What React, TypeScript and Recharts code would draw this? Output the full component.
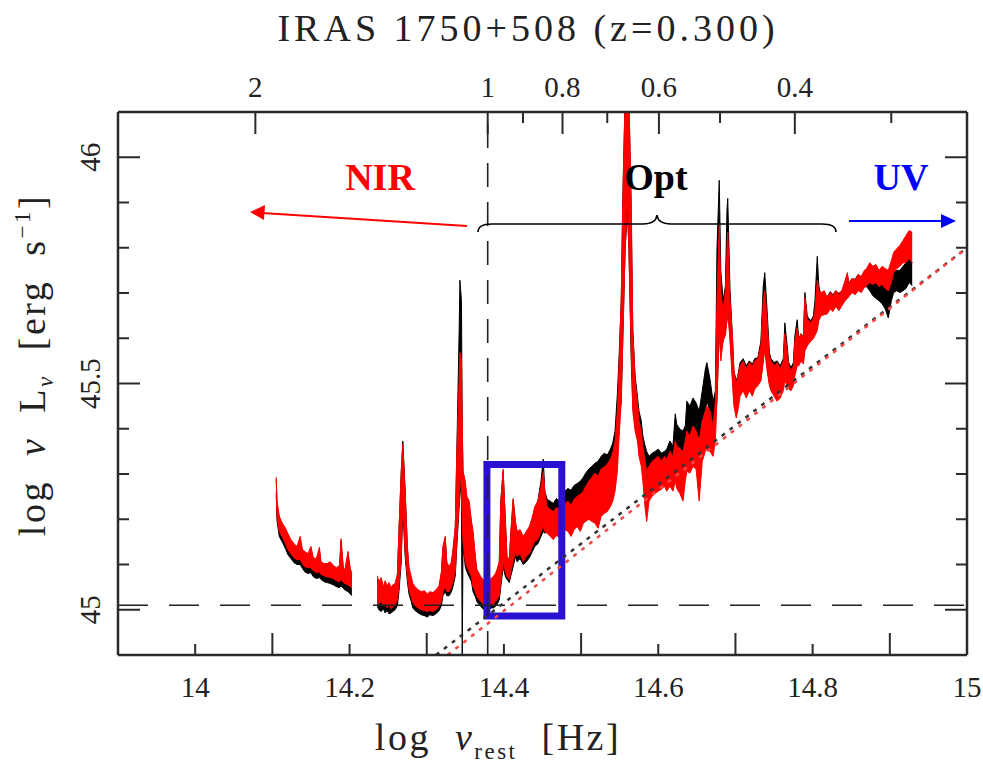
import { ComposedChart, XAxis, YAxis, Area, Line, ReferenceLine, ReferenceArea } from 'recharts';

const W = 983;
const H = 763;
const SERIF = '"Liberation Serif", "DejaVu Serif", serif';
const FRAME = '#2a2a2a';

// ---- axes ----
const BOTTOM_TICKS = [14, 14.1, 14.2, 14.3, 14.4, 14.5, 14.6, 14.7, 14.8, 14.9, 15];
const BOTTOM_LABELS = ['14', '', '14.2', '', '14.4', '', '14.6', '', '14.8', '', '15'];
const LEFT_TICKS = [45, 45.1, 45.2, 45.3, 45.4, 45.5, 45.6, 45.7, 45.8, 45.9, 46];
const LEFT_LABELS = ['45', '', '', '', '', '45.5', '', '', '', '', '46'];
// top axis: observed wavelength in micron
const TOP_WAVELENGTHS = [2, 1, 0.9, 0.8, 0.7, 0.6, 0.5, 0.4, 0.3];
const TOP_LABELS = ['2', '1', '', '0.8', '', '0.6', '', '0.4', ''];
const LOG_NU_AT_1UM = 14.379;
const topTicks = TOP_WAVELENGTHS.map((l) => LOG_NU_AT_1UM - Math.log10(l));

// ---- NIR segment of the spectrum ----
const SEG1_NU = [14.105, 14.106, 14.109, 14.113, 14.117, 14.120, 14.124, 14.128, 14.132, 14.136,
  14.139, 14.142, 14.146, 14.150, 14.153, 14.157, 14.161, 14.163, 14.167, 14.171,
  14.175, 14.179, 14.183, 14.187, 14.189, 14.192, 14.194, 14.198, 14.201, 14.203];
const SEG1_RED_HI = [45.293, 45.240, 45.206, 45.191, 45.180, 45.169, 45.155, 45.146, 45.140, 45.162,
  45.133, 45.129, 45.124, 45.140, 45.115, 45.113, 45.138, 45.106, 45.102, 45.102,
  45.106, 45.098, 45.093, 45.098, 45.157, 45.093, 45.089, 45.129, 45.089, 45.084];
const SEG1_RED_LO = [45.262, 45.206, 45.173, 45.160, 45.146, 45.133, 45.124, 45.115, 45.111, 45.111,
  45.102, 45.095, 45.093, 45.093, 45.087, 45.082, 45.084, 45.078, 45.075, 45.073,
  45.071, 45.069, 45.064, 45.062, 45.067, 45.060, 45.058, 45.055, 45.051, 45.047];
const SEG1_BLACK_HI = [45.288, 45.235, 45.202, 45.184, 45.173, 45.162, 45.151, 45.140, 45.133, 45.155,
  45.126, 45.122, 45.118, 45.133, 45.109, 45.106, 45.131, 45.100, 45.095, 45.095,
  45.100, 45.091, 45.087, 45.091, 45.151, 45.087, 45.082, 45.122, 45.082, 45.078];
const SEG1_BLACK_LO = [45.253, 45.197, 45.162, 45.149, 45.135, 45.122, 45.113, 45.104, 45.100, 45.100,
  45.091, 45.084, 45.080, 45.082, 45.073, 45.069, 45.071, 45.067, 45.062, 45.060,
  45.058, 45.055, 45.051, 45.049, 45.053, 45.047, 45.044, 45.040, 45.035, 45.031];

// ---- main segment of the spectrum ----
const MAIN_NU = [
  14.236, 14.238, 14.241, 14.244, 14.246, 14.249, 14.251, 14.254, 14.256, 14.259,
  14.262, 14.264, 14.267, 14.269, 14.272, 14.275, 14.277, 14.280, 14.282, 14.285,
  14.289, 14.293, 14.297, 14.301, 14.304, 14.308, 14.312, 14.316, 14.319, 14.321,
  14.324, 14.326, 14.329, 14.332, 14.334, 14.337, 14.339, 14.342, 14.343, 14.345,
  14.346, 14.347, 14.350, 14.352, 14.355, 14.358, 14.360, 14.363, 14.365, 14.368,
  14.370, 14.373, 14.376, 14.378, 14.381, 14.383, 14.386, 14.389, 14.391, 14.394,
  14.396, 14.399, 14.402, 14.404, 14.407, 14.409, 14.412, 14.415, 14.417, 14.421,
  14.425, 14.429, 14.433, 14.437, 14.440, 14.444, 14.448, 14.451, 14.453, 14.456,
  14.460, 14.464, 14.468, 14.472, 14.475, 14.479, 14.483, 14.487, 14.491, 14.495,
  14.499, 14.503, 14.506, 14.510, 14.514, 14.518, 14.522, 14.526, 14.530, 14.534,
  14.538, 14.541, 14.544, 14.547, 14.549, 14.552, 14.554, 14.557, 14.560, 14.562,
  14.565, 14.567, 14.570, 14.573, 14.575, 14.578, 14.580, 14.583, 14.585, 14.588,
  14.592, 14.596, 14.600, 14.604, 14.608, 14.611, 14.615, 14.619, 14.622, 14.624,
  14.628, 14.632, 14.635, 14.637, 14.641, 14.645, 14.649, 14.653, 14.657, 14.661,
  14.663, 14.667, 14.671, 14.674, 14.676, 14.679, 14.681, 14.684, 14.687, 14.689,
  14.690, 14.693, 14.696, 14.698, 14.701, 14.703, 14.706, 14.710, 14.714, 14.718,
  14.722, 14.725, 14.729, 14.733, 14.736, 14.738, 14.741, 14.744, 14.746, 14.750,
  14.754, 14.758, 14.762, 14.764, 14.767, 14.769, 14.772, 14.775, 14.777, 14.780,
  14.782, 14.785, 14.788, 14.790, 14.793, 14.795, 14.798, 14.801, 14.803, 14.806,
  14.808, 14.811, 14.815, 14.819, 14.823, 14.826, 14.830, 14.834, 14.838, 14.842,
  14.845, 14.847, 14.851, 14.855, 14.859, 14.863, 14.867, 14.870, 14.874, 14.878,
  14.882, 14.886, 14.890, 14.894, 14.898, 14.902, 14.905, 14.909, 14.913, 14.917,
  14.921, 14.925, 14.929];
const MAIN_RED_HI = [
  45.075, 45.062, 45.071, 45.051, 45.064, 45.053, 45.060, 45.049, 45.055, 45.058,
  45.080, 45.173, 45.306, 45.366, 45.262, 45.140, 45.093, 45.073, 45.058, 45.051,
  45.044, 45.040, 45.042, 45.035, 45.040, 45.038, 45.044, 45.053, 45.084, 45.140,
  45.162, 45.106, 45.095, 45.106, 45.133, 45.184, 45.350, 45.506, 45.568, 45.550,
  45.417, 45.306, 45.284, 45.251, 45.240, 45.195, 45.173, 45.118, 45.089, 45.080,
  45.073, 45.067, 45.062, 45.058, 45.062, 45.069, 45.073, 45.080, 45.089, 45.106,
  45.240, 45.311, 45.195, 45.118, 45.111, 45.173, 45.246, 45.195, 45.173, 45.177,
  45.162, 45.173, 45.184, 45.206, 45.228, 45.240, 45.273, 45.306, 45.262, 45.228,
  45.222, 45.217, 45.226, 45.222, 45.228, 45.235, 45.240, 45.231, 45.244, 45.251,
  45.255, 45.262, 45.273, 45.284, 45.293, 45.302, 45.295, 45.311, 45.315, 45.322,
  45.333, 45.346, 45.373, 45.439, 45.528, 45.683, 45.905, 46.127, 46.149, 46.127,
  45.905, 45.617, 45.506, 45.461, 45.417, 45.395, 45.362, 45.328, 45.306, 45.317,
  45.328, 45.333, 45.339, 45.328, 45.339, 45.333, 45.350, 45.339, 45.373, 45.362,
  45.355, 45.350, 45.373, 45.395, 45.384, 45.406, 45.395, 45.373, 45.417, 45.439,
  45.450, 45.439, 45.406, 45.461, 45.683, 45.854, 45.705, 45.661, 45.705, 45.794,
  45.834, 45.683, 45.606, 45.528, 45.499, 45.517, 45.539, 45.550, 45.532, 45.546,
  45.539, 45.550, 45.555, 45.583, 45.683, 45.705, 45.639, 45.561, 45.550, 45.539,
  45.546, 45.532, 45.550, 45.610, 45.572, 45.539, 45.528, 45.539, 45.594, 45.623,
  45.594, 45.610, 45.599, 45.690, 45.643, 45.639, 45.634, 45.645, 45.661, 45.728,
  45.705, 45.701, 45.705, 45.690, 45.701, 45.694, 45.705, 45.696, 45.705, 45.728,
  45.745, 45.721, 45.732, 45.728, 45.741, 45.736, 45.750, 45.754, 45.767, 45.759,
  45.763, 45.750, 45.759, 45.754, 45.750, 45.772, 45.790, 45.798, 45.805, 45.816,
  45.827, 45.838, 45.834];
const MAIN_RED_LO = [
  45.022, 45.013, 45.018, 45.009, 45.016, 45.004, 45.011, 45.002, 45.007, 45.011,
  45.022, 45.051, 45.118, 45.240, 45.129, 45.073, 45.044, 45.027, 45.016, 45.009,
  45.004, 45.000, 44.998, 44.996, 44.998, 44.996, 45.000, 45.007, 45.018, 45.040,
  45.051, 45.040, 45.040, 45.051, 45.062, 45.084, 45.151, 45.240, 45.306, 45.262,
  45.195, 45.151, 45.106, 45.095, 45.084, 45.073, 45.051, 45.040, 45.029, 45.022,
  45.018, 45.013, 45.011, 45.009, 45.011, 45.013, 45.011, 45.018, 45.022, 45.031,
  45.062, 45.106, 45.084, 45.073, 45.067, 45.084, 45.106, 45.129, 45.118, 45.124,
  45.106, 45.118, 45.124, 45.140, 45.151, 45.155, 45.173, 45.184, 45.173, 45.169,
  45.162, 45.155, 45.164, 45.160, 45.173, 45.177, 45.173, 45.162, 45.177, 45.184,
  45.173, 45.191, 45.195, 45.200, 45.195, 45.191, 45.180, 45.206, 45.213, 45.217,
  45.228, 45.240, 45.262, 45.306, 45.373, 45.461, 45.594, 45.794, 45.905, 45.794,
  45.572, 45.439, 45.395, 45.373, 45.339, 45.317, 45.284, 45.224, 45.195, 45.240,
  45.251, 45.257, 45.262, 45.266, 45.273, 45.262, 45.273, 45.262, 45.284, 45.268,
  45.257, 45.240, 45.284, 45.306, 45.302, 45.317, 45.311, 45.240, 45.328, 45.350,
  45.355, 45.350, 45.339, 45.373, 45.461, 45.617, 45.550, 45.594, 45.606, 45.639,
  45.661, 45.594, 45.506, 45.450, 45.424, 45.439, 45.472, 45.484, 45.468, 45.484,
  45.472, 45.488, 45.495, 45.506, 45.550, 45.572, 45.528, 45.495, 45.484, 45.472,
  45.461, 45.468, 45.484, 45.506, 45.495, 45.488, 45.484, 45.495, 45.517, 45.539,
  45.539, 45.550, 45.543, 45.572, 45.583, 45.588, 45.594, 45.599, 45.606, 45.617,
  45.639, 45.650, 45.652, 45.654, 45.665, 45.659, 45.670, 45.661, 45.672, 45.683,
  45.688, 45.692, 45.701, 45.696, 45.705, 45.701, 45.712, 45.716, 45.723, 45.719,
  45.723, 45.714, 45.719, 45.710, 45.705, 45.723, 45.745, 45.754, 45.759, 45.767,
  45.767, 45.776, 45.767];
const MAIN_BLACK_HI = [
  45.067, 45.058, 45.062, 45.047, 45.055, 45.044, 45.053, 45.044, 45.047, 45.053,
  45.073, 45.173, 45.306, 45.373, 45.266, 45.133, 45.089, 45.067, 45.053, 45.044,
  45.040, 45.035, 45.035, 45.031, 45.035, 45.033, 45.040, 45.049, 45.080, 45.135,
  45.157, 45.102, 45.091, 45.102, 45.129, 45.180, 45.350, 45.617, 45.728, 45.683,
  45.395, 45.306, 45.273, 45.240, 45.228, 45.191, 45.169, 45.111, 45.084, 45.073,
  45.067, 45.062, 45.058, 45.053, 45.058, 45.062, 45.067, 45.073, 45.084, 45.102,
  45.240, 45.306, 45.191, 45.113, 45.106, 45.169, 45.242, 45.191, 45.169, 45.173,
  45.157, 45.169, 45.180, 45.202, 45.224, 45.240, 45.284, 45.333, 45.262, 45.244,
  45.240, 45.235, 45.246, 45.240, 45.251, 45.262, 45.268, 45.264, 45.275, 45.279,
  45.284, 45.293, 45.302, 45.311, 45.317, 45.324, 45.328, 45.339, 45.346, 45.342,
  45.355, 45.368, 45.395, 45.477, 45.550, 45.683, 45.905, 46.127, 46.138, 46.127,
  45.861, 45.617, 45.517, 45.472, 45.439, 45.417, 45.384, 45.362, 45.350, 45.339,
  45.346, 45.350, 45.355, 45.346, 45.350, 45.355, 45.373, 45.362, 45.433, 45.410,
  45.399, 45.395, 45.406, 45.461, 45.450, 45.468, 45.457, 45.439, 45.484, 45.532,
  45.546, 45.510, 45.461, 45.484, 45.794, 45.949, 45.750, 45.683, 45.716, 45.883,
  45.909, 45.705, 45.606, 45.528, 45.506, 45.517, 45.546, 45.555, 45.539, 45.550,
  45.543, 45.555, 45.557, 45.594, 45.716, 45.745, 45.661, 45.568, 45.555, 45.546,
  45.550, 45.539, 45.555, 45.634, 45.583, 45.546, 45.535, 45.546, 45.606, 45.641,
  45.599, 45.610, 45.603, 45.701, 45.650, 45.643, 45.639, 45.650, 45.683, 45.781,
  45.716, 45.692, 45.696, 45.692, 45.703, 45.696, 45.705, 45.699, 45.705, 45.723,
  45.739, 45.721, 45.732, 45.730, 45.741, 45.736, 45.747, 45.750, 45.754, 45.745,
  45.739, 45.728, 45.723, 45.716, 45.705, 45.732, 45.745, 45.750, 45.750, 45.759,
  45.767, 45.776, 45.767];
const MAIN_BLACK_LO = [
  45.007, 45.000, 44.996, 45.002, 44.993, 44.998, 44.991, 44.993, 44.996, 45.000,
  45.009, 45.040, 45.106, 45.228, 45.118, 45.062, 45.035, 45.018, 45.004, 44.998,
  44.993, 44.989, 44.987, 44.984, 44.989, 44.987, 44.991, 44.998, 45.009, 45.031,
  45.040, 45.031, 45.031, 45.040, 45.051, 45.075, 45.140, 45.228, 45.284, 45.240,
  44.896, 45.140, 45.095, 45.084, 45.073, 45.062, 45.040, 45.029, 45.018, 45.011,
  45.007, 45.002, 45.000, 44.998, 45.000, 45.004, 45.004, 45.007, 45.011, 45.022,
  45.051, 45.095, 45.073, 45.067, 45.060, 45.075, 45.095, 45.118, 45.106, 45.113,
  45.100, 45.106, 45.115, 45.129, 45.140, 45.146, 45.162, 45.173, 45.169, 45.173,
  45.184, 45.177, 45.191, 45.186, 45.195, 45.206, 45.213, 45.206, 45.217, 45.222,
  45.228, 45.233, 45.240, 45.246, 45.251, 45.257, 45.266, 45.273, 45.284, 45.279,
  45.288, 45.306, 45.328, 45.373, 45.417, 45.461, 45.594, 45.794, 45.883, 45.794,
  45.550, 45.450, 45.406, 45.384, 45.362, 45.346, 45.328, 45.306, 45.295, 45.288,
  45.295, 45.302, 45.306, 45.302, 45.311, 45.306, 45.317, 45.311, 45.350, 45.357,
  45.359, 45.350, 45.357, 45.395, 45.379, 45.395, 45.390, 45.379, 45.417, 45.439,
  45.461, 45.439, 45.395, 45.417, 45.461, 45.617, 45.572, 45.594, 45.617, 45.639,
  45.661, 45.606, 45.517, 45.461, 45.439, 45.450, 45.484, 45.488, 45.477, 45.488,
  45.479, 45.495, 45.499, 45.510, 45.550, 45.583, 45.539, 45.501, 45.490, 45.484,
  45.472, 45.479, 45.495, 45.517, 45.506, 45.495, 45.490, 45.499, 45.528, 45.550,
  45.546, 45.557, 45.550, 45.583, 45.594, 45.594, 45.599, 45.606, 45.612, 45.628,
  45.643, 45.661, 45.657, 45.659, 45.670, 45.663, 45.672, 45.665, 45.674, 45.688,
  45.692, 45.694, 45.703, 45.701, 45.708, 45.705, 45.714, 45.714, 45.705, 45.694,
  45.688, 45.683, 45.676, 45.665, 45.645, 45.683, 45.701, 45.705, 45.701, 45.705,
  45.710, 45.723, 45.716];

// ---- power-law continua (dotted) ----
const BLACK_PL_NU = [14.312, 15.0];
const BLACK_PL_LOGL = [44.9, 45.8];
const RED_PL_NU = [14.327, 15.0];
const RED_PL_LOGL = [44.9, 45.8];

// reference levels and highlighted window
const LEVEL_45 = 45.01;
const BOX = { x1: 14.378, x2: 14.475, y1: 44.986, y2: 45.321 };

const band = (nu: number[], lo: number[], hi: number[]) =>
  nu.map((n, i) => ({ nu: n, band: [lo[i], hi[i]] }));

const seg1Black = band(SEG1_NU, SEG1_BLACK_LO, SEG1_BLACK_HI);
const seg1Red = band(SEG1_NU, SEG1_RED_LO, SEG1_RED_HI);
const mainBlack = band(MAIN_NU, MAIN_BLACK_LO, MAIN_BLACK_HI);
const mainRed = band(MAIN_NU, MAIN_RED_LO, MAIN_RED_HI);
const blackPL = BLACK_PL_NU.map((n, i) => ({ nu: n, v: BLACK_PL_LOGL[i] }));
const redPL = RED_PL_NU.map((n, i) => ({ nu: n, v: RED_PL_LOGL[i] }));

const tickFont = { fontFamily: SERIF, fontSize: 29, fill: '#222' };

const BottomTick = (props: any) => {
  const { x, y, index } = props;
  const label = BOTTOM_LABELS[index];
  const len = label === '' ? 22 : 11;
  return (
    <g>
      <line x1={x} x2={x} y1={y} y2={y - len} stroke={FRAME} strokeWidth={2} />
      {label && <text x={x} y={y + 42} textAnchor="middle" {...tickFont}>{label}</text>}
    </g>
  );
};

const TopTick = (props: any) => {
  const { x, y, index } = props;
  const label = TOP_LABELS[index];
  const len = label === '' ? 11 : 22;
  return (
    <g>
      <line x1={x} x2={x} y1={y} y2={y + len} stroke={FRAME} strokeWidth={2} />
      {label && <text x={x} y={y - 15} textAnchor="middle" {...tickFont}>{label}</text>}
    </g>
  );
};

const LeftTick = (props: any) => {
  const { x, y, index } = props;
  const label = LEFT_LABELS[index];
  const len = label === '' ? 11 : 22;
  const bx = x - 18;
  return (
    <g>
      <line x1={x} x2={x + len} y1={y} y2={y} stroke={FRAME} strokeWidth={2} />
      {label && (
        <text x={bx} y={y} transform={`rotate(-90 ${bx} ${y})`} textAnchor="middle" {...tickFont}>
          {label}
        </text>
      )}
    </g>
  );
};

const RightTick = (props: any) => {
  const { x, y, index } = props;
  const len = LEFT_LABELS[index] === '' ? 11 : 22;
  return <line x1={x} x2={x - len} y1={y} y2={y} stroke={FRAME} strokeWidth={2} />;
};

const axisLine = { stroke: FRAME, strokeWidth: 2.5 };
const pre = { whiteSpace: 'pre' as const };

export default function App() {
  return (
    <div style={{ position: 'absolute', left: 0, top: 0, width: W, height: H, background: '#fff' }}>
      <ComposedChart width={W} height={H} margin={{ top: 0, right: 0, bottom: 0, left: 0 }}>
        <XAxis xAxisId="bottom" dataKey="nu" type="number" domain={[13.9, 15]} allowDataOverflow
          ticks={BOTTOM_TICKS} interval={0} height={108} tickSize={0} tickMargin={0}
          tickLine={false} axisLine={axisLine} tick={BottomTick} />
        <XAxis xAxisId="top" orientation="top" dataKey="nu" type="number" domain={[13.9, 15]} allowDataOverflow
          ticks={topTicks} interval={0} height={112} tickSize={0} tickMargin={0}
          tickLine={false} axisLine={axisLine} tick={TopTick} />
        <YAxis yAxisId="left" type="number" domain={[44.9, 46.1]} allowDataOverflow
          ticks={LEFT_TICKS} interval={0} width={118} tickSize={0} tickMargin={0}
          tickLine={false} axisLine={axisLine} tick={LeftTick} />
        <YAxis yAxisId="right" orientation="right" type="number" domain={[44.9, 46.1]} allowDataOverflow
          ticks={LEFT_TICKS} interval={0} width={16} tickSize={0} tickMargin={0}
          tickLine={false} axisLine={axisLine} tick={RightTick} />

        <ReferenceLine xAxisId="bottom" yAxisId="left" y={LEVEL_45} stroke="#222" strokeWidth={1.6} strokeDasharray="30 21" />
        <ReferenceLine xAxisId="bottom" yAxisId="left" x={LOG_NU_AT_1UM} stroke="#222" strokeWidth={1.6} strokeDasharray="24 15" />

        <Area xAxisId="bottom" yAxisId="left" data={seg1Black} dataKey="band" type="linear"
          stroke="#000" strokeWidth={1} fill="#000" fillOpacity={1} dot={false} activeDot={false} isAnimationActive={false} />
        <Area xAxisId="bottom" yAxisId="left" data={mainBlack} dataKey="band" type="linear"
          stroke="#000" strokeWidth={1} fill="#000" fillOpacity={1} dot={false} activeDot={false} isAnimationActive={false} />
        <Area xAxisId="bottom" yAxisId="left" data={seg1Red} dataKey="band" type="linear"
          stroke="#ff0000" strokeWidth={1} fill="#ff0000" fillOpacity={1} dot={false} activeDot={false} isAnimationActive={false} />
        <Area xAxisId="bottom" yAxisId="left" data={mainRed} dataKey="band" type="linear"
          stroke="#ff0000" strokeWidth={1} fill="#ff0000" fillOpacity={1} dot={false} activeDot={false} isAnimationActive={false} />

        <Line xAxisId="bottom" yAxisId="left" data={blackPL} dataKey="v" type="linear"
          stroke="#333" strokeWidth={2.5} strokeDasharray="4 6" dot={false} activeDot={false} isAnimationActive={false} />
        <Line xAxisId="top" yAxisId="right" data={redPL} dataKey="v" type="linear"
          stroke="#f04848" strokeWidth={2.5} strokeDasharray="4 6" dot={false} activeDot={false} isAnimationActive={false} />

        <ReferenceArea xAxisId="bottom" yAxisId="left" x1={BOX.x1} x2={BOX.x2} y1={BOX.y1} y2={BOX.y2}
          fill="none" fillOpacity={0} stroke="#2a10d0" strokeWidth={7} ifOverflow="visible" />
      </ComposedChart>

      <svg width={W} height={H} style={{ position: 'absolute', left: 0, top: 0, pointerEvents: 'none' }}>
        <text x={528} y={41} textAnchor="middle" fontFamily={SERIF} fontSize={38} letterSpacing={4} fill="#222" style={pre}>
          IRAS 1750+508 (z=0.300)
        </text>
        <text x={498} y={750} textAnchor="middle" fontFamily={SERIF} fontSize={38} letterSpacing={2.5} fill="#222" style={pre}>
          {'log  '}<tspan fontStyle="italic">ν</tspan>
          <tspan fontSize={23} dy={9}>rest</tspan>
          <tspan dy={-9}>{'  [Hz]'}</tspan>
        </text>
        <text transform="translate(45 365) rotate(-90)" textAnchor="middle" fontFamily={SERIF} fontSize={38}
          letterSpacing={2.5} fill="#222" style={pre}>
          {'log  '}<tspan fontStyle="italic">ν</tspan>{'  L'}<tspan fontSize={23} dy={8} fontStyle="italic">ν</tspan>
          <tspan dy={-8}>{'  [erg  s'}</tspan>
          <tspan fontSize={23} dy={-15}>−1</tspan>
          <tspan dy={15}>]</tspan>
        </text>

        <text x={380} y={190} textAnchor="middle" fontFamily={SERIF} fontWeight="bold" fontSize={38} fill="#ff0000">NIR</text>
        <text x={656} y={190} textAnchor="middle" fontFamily={SERIF} fontWeight="bold" fontSize={38} fill="#000">Opt</text>
        <text x={901} y={190} textAnchor="middle" fontFamily={SERIF} fontWeight="bold" fontSize={38} fill="#0000ff">UV</text>

        <line x1={467} y1={226} x2={262} y2={213} stroke="#ff0000" strokeWidth={2} />
        <polygon points="250,212 265,205 264,220" fill="#ff0000" />
        <line x1={849} y1={221} x2={942} y2={221} stroke="#0000ff" strokeWidth={2} />
        <polygon points="956,221 941,214 941,228" fill="#0000ff" />
        <path d="M478 232 Q478 224 492 224 L643 224 Q656 224 657 215 Q658 224 671 224 L822 224 Q836 224 836 232"
          fill="none" stroke="#000" strokeWidth={1.6} />
      </svg>
    </div>
  );
}
